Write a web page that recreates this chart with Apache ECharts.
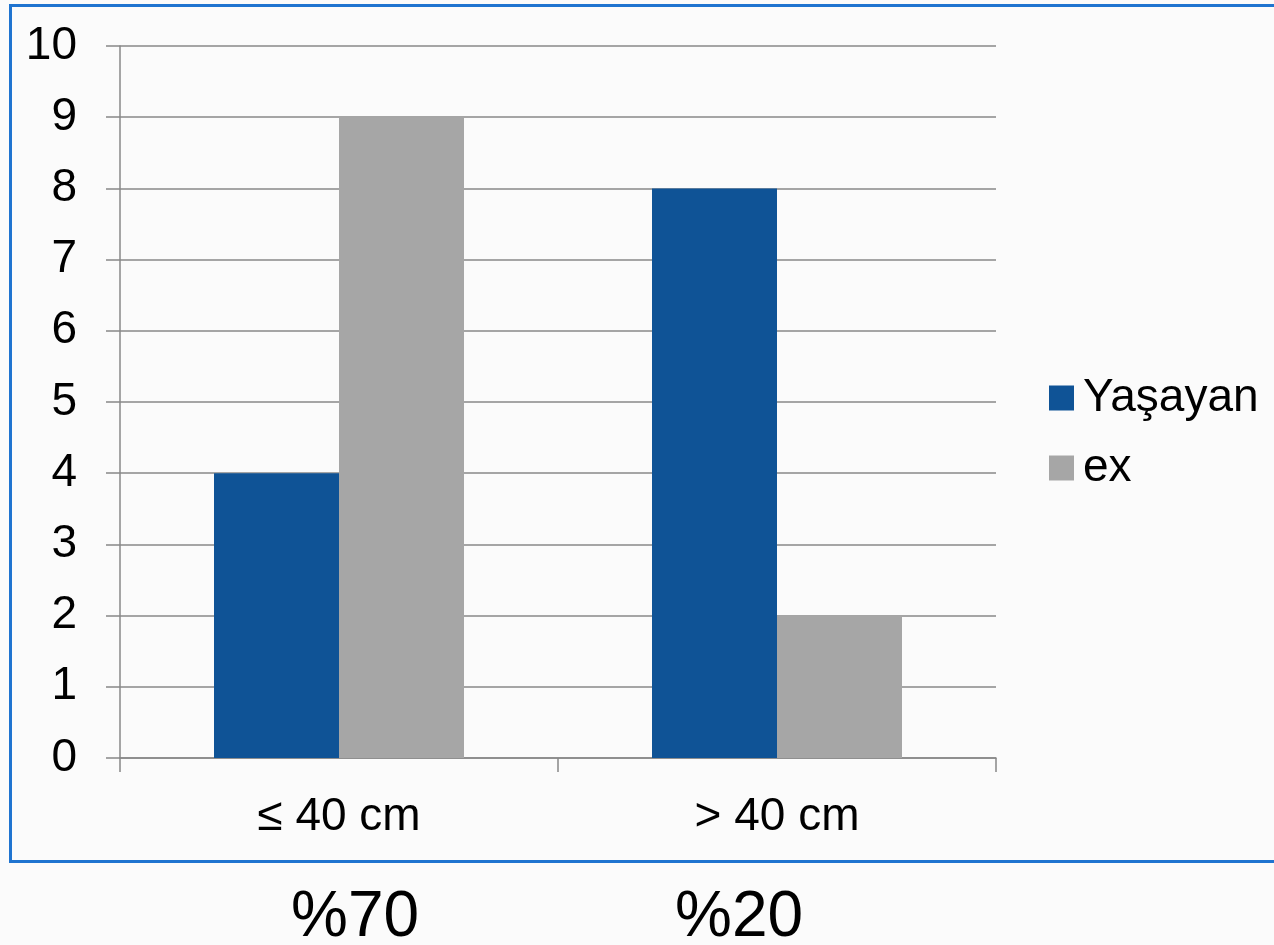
<!DOCTYPE html>
<html><head><meta charset="utf-8">
<script src="https://cdn.jsdelivr.net/npm/echarts@6/dist/echarts.min.js"></script>
<style>html,body{margin:0;padding:0;background:#fbfbfb;}#c{width:1274px;height:945px;}</style>
</head><body><div id="c"></div>
<script>
const categories = ['≤ 40 cm', '> 40 cm'];
const seriesNames = ['Yaşayan', 'ex'];
const yasayan = [4, 8];
const ex = [9, 2];
const percentLabels = ['%70', '%20'];
const yTicks = [0, 10, 1];

const chart = echarts.init(document.getElementById('c'), null, {renderer: 'canvas'});
const font = 'Liberation Sans, Arial, sans-serif';
chart.setOption({
  backgroundColor: '#fbfbfb',
  animation: false,
  grid: {left: 120, right: 278, top: 46, bottom: 187, containLabel: false},
  legend: {
    orient: 'vertical', left: 1044, top: 368, itemWidth: 25, itemHeight: 25, itemGap: 20,
    icon: 'rect',
    textStyle: {fontFamily: font, fontSize: 46, color: '#000', lineHeight: 50, padding: [0,0,0,4]},
    data: seriesNames
  },
  xAxis: {
    type: 'category', data: categories,
    axisLine: {lineStyle: {color: '#888', width: 1.5}},
    axisTick: {show: true, length: 14, lineStyle: {color: '#888', width: 1.5}},
    axisLabel: {fontFamily: font, fontSize: 46, color: '#000', margin: 36}
  },
  yAxis: {
    type: 'value', min: yTicks[0], max: yTicks[1], interval: yTicks[2],
    axisLine: {show: true, lineStyle: {color: '#888', width: 1.5}},
    axisTick: {show: true, length: 14, lineStyle: {color: '#888', width: 1.5}},
    splitLine: {lineStyle: {color: '#888', width: 1.5}},
    axisLabel: {fontFamily: font, fontSize: 46, color: '#000', margin: 43}
  },
  series: [
    {name: seriesNames[0], type: 'bar', data: yasayan, barWidth: 125, barGap: '0%', itemStyle: {color: '#0f5396'}},
    {name: seriesNames[1], type: 'bar', data: ex, barWidth: 125, barGap: '0%', itemStyle: {color: '#a6a6a6'}}
  ],
  graphic: [
    {type: 'rect', left: 8, top: 3, shape: {x: 0, y: 0, width: 1300, height: 856}, style: {fill: null, stroke: '#1f74d0', lineWidth: 3}, silent: true, z: 100},
    {type: 'text', left: 291, top: 886, style: {text: percentLabels[0], font: '64px ' + font, fill: '#000'}},
    {type: 'text', left: 675, top: 886, style: {text: percentLabels[1], font: '64px ' + font, fill: '#000'}}
  ]
});
</script></body></html>
